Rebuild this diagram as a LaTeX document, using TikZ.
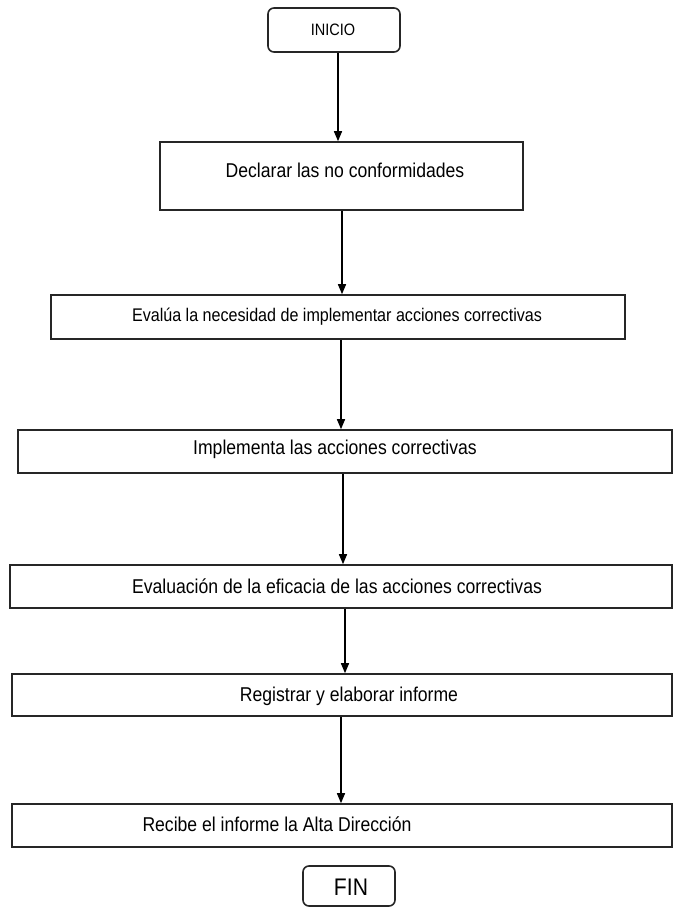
\documentclass[tikz,border=0pt]{standalone}
\usepackage{fontspec}
\setmainfont{Liberation Sans}[FakeStretch=0.88]
\usetikzlibrary{arrows.meta}
\begin{document}
\begin{tikzpicture}[x=1pt,y=-1pt,
  box/.style={draw=black!85,line width=1.6pt,rectangle,inner sep=0pt},
  term/.style={box,rounded corners=6pt},
  txt/.style={inner sep=0pt,anchor=base,font=\fontsize{20}{24}\selectfont},
  arr/.style={line width=1.4pt,-{Triangle[length=10pt,width=8pt]}}]
\useasboundingbox (0,0) rectangle (673,908);
% boxes
\node[term,minimum width=132pt,minimum height=44pt] (inicio) at (334,30) {};
\node[box,minimum width=363pt,minimum height=68pt] (b1) at (341.5,176) {};
\node[box,minimum width=574pt,minimum height=44pt] (b2) at (338,317) {};
\node[box,minimum width=654pt,minimum height=43pt] (b3) at (345,451.5) {};
\node[box,minimum width=662pt,minimum height=43pt] (b4) at (341,586.5) {};
\node[box,minimum width=660pt,minimum height=42pt] (b5) at (342,695) {};
\node[box,minimum width=660pt,minimum height=43pt] (b6) at (342,825.5) {};
\node[term,minimum width=92pt,minimum height=40pt] (fin) at (349,886) {};
% texts
\node[txt,font=\fontsize{16.5}{20}\selectfont] (t0) at (333,35) {INICIO};
\node[txt] (t1) at (345,177) {Declarar las no conformidades};
\node[txt,font=\fontsize{18.3}{22}\selectfont] (t2) at (337,321) {Evalúa la necesidad de implementar acciones correctivas};
\node[txt] (t3) at (335,454) {Implementa las acciones correctivas};
\node[txt] (t4) at (337,593) {Evaluación de la eficacia de las acciones correctivas};
\node[txt] (t5) at (349,701) {Registrar y elaborar informe};
\node[txt] (t6) at (277,831) {Recibe el informe la Alta Dirección};
\node[txt,font=\fontsize{24}{28}\selectfont] (t7) at (351,895) {FIN};
% connectors
\draw[arr] ([xshift=4pt]inicio.south) -- ([xshift=4pt]inicio.south |- b1.north);
\draw[arr] ([xshift=0.5pt]b1.south) -- ([xshift=0.5pt]b1.south |- b2.north);
\draw[arr] ([xshift=3pt]b2.south) -- ([xshift=3pt]b2.south |- b3.north);
\draw[arr] ([xshift=-2pt]b3.south) -- ([xshift=-2pt]b3.south |- b4.north);
\draw[arr] ([xshift=4pt]b4.south) -- ([xshift=4pt]b4.south |- b5.north);
\draw[arr] ([xshift=-1pt]b5.south) -- ([xshift=-1pt]b5.south |- b6.north);
\end{tikzpicture}
\end{document}
